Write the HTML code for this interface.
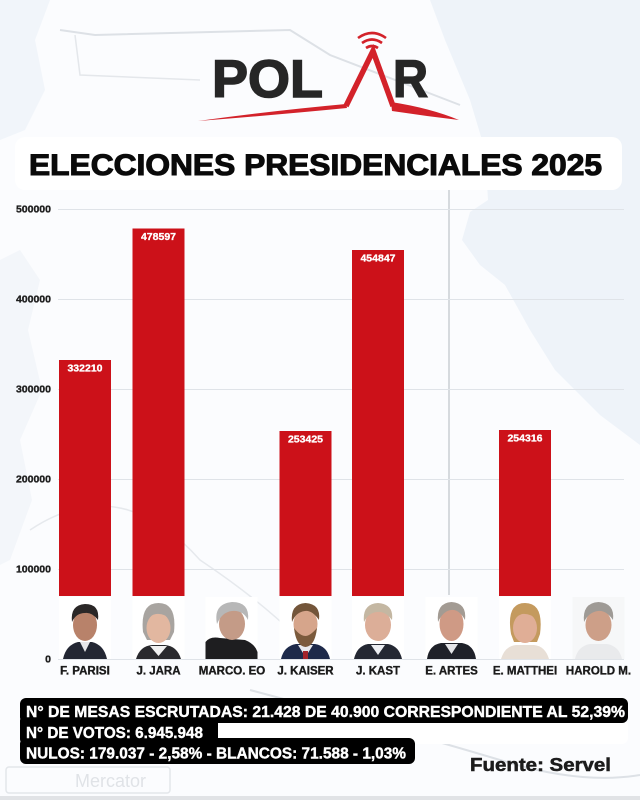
<!DOCTYPE html>
<html>
<head>
<meta charset="utf-8">
<style>
html,body{margin:0;padding:0;background:#fff;}
svg{display:block;}
text{font-family:"Liberation Sans",sans-serif;}
</style>
</head>
<body>
<svg width="640" height="800" viewBox="0 0 640 800" xmlns="http://www.w3.org/2000/svg">
  <!-- background map -->
  <rect x="0" y="0" width="640" height="800" fill="#fbfcfe"/>
  <path d="M430,0 L640,0 L640,445 L600,415 L555,370 L530,330 L505,285 L480,265 L462,240 L470,212 L488,200 L485,150 L470,100 L445,40 Z" fill="#eef3f9"/>
  <path d="M0,0 L50,0 L35,40 L45,90 L25,130 L0,140 Z" fill="#f1f5fa"/>
  <path d="M0,260 L20,250 L40,280 L28,330 L42,390 L20,440 L32,500 L10,560 L0,565 Z" fill="#f3f6fa"/>
  <path d="M60,30 L95,35 L290,30 L330,55 L460,105" fill="none" stroke="#dde1e6" stroke-width="2"/>
  <path d="M75,35 L80,75 L200,80" fill="none" stroke="#e4e7eb" stroke-width="1.5"/>
  <line x1="449" y1="185" x2="449" y2="595" stroke="#d6dade" stroke-width="2"/>
  <path d="M250,690 Q400,730 500,760 Q580,785 640,775" fill="none" stroke="#dde1e6" stroke-width="2"/>
  <path d="M30,530 Q120,470 200,560 Q260,600 300,640" fill="none" stroke="#e6e9ed" stroke-width="1.5"/>
  <!-- bottom strip -->
  <rect x="0" y="796" width="640" height="4" fill="#e1e3e6"/>

  <!-- faint Mercator box -->
  <rect x="6" y="767" width="164" height="26" rx="3" fill="none" stroke="#e3e6ea" stroke-width="1.5"/>
  <text x="75" y="787" font-size="18" fill="#e0e3e7">Mercator</text>

  <!-- Logo -->
  <g>
    <path d="M358,38 Q372,28 386,38" fill="none" stroke="#d3222a" stroke-width="2.6"/>
    <path d="M362,43 Q372,36 382,43" fill="none" stroke="#d3222a" stroke-width="2.6"/>
    <path d="M366,48 Q372,44 378,48" fill="none" stroke="#d3222a" stroke-width="2.6"/>
    <text x="212" y="97" font-size="53" font-weight="bold" fill="#262626" stroke="#262626" stroke-width="1.5" textLength="111" lengthAdjust="spacingAndGlyphs">POL</text>
    <text x="393" y="97" font-size="53" font-weight="bold" fill="#262626" stroke="#262626" stroke-width="1.5" textLength="35" lengthAdjust="spacingAndGlyphs">R</text>
    <path d="M346,106 L373,51 L393,106" fill="none" stroke="#d3222a" stroke-width="5.5" stroke-linejoin="miter"/>
    <path d="M198,121 Q270,111 346,104 L347,108 Q275,115 198,121 Z" fill="#d3222a"/>
    <path d="M391,102 Q430,108 459,120 Q425,116 392,111 Z" fill="#d3222a"/>
  </g>

  <!-- Title box -->
  <rect x="15" y="137" width="607" height="53" rx="10" fill="#ffffff"/>
  <text x="29" y="175" font-size="30" font-weight="bold" fill="#0a0a0a" stroke="#0a0a0a" stroke-width="1.1" textLength="573" lengthAdjust="spacingAndGlyphs">ELECCIONES PRESIDENCIALES 2025</text>

  <!-- gridlines -->
  <g stroke="#dfe3e8" stroke-width="1">
    <line x1="58" y1="209.5" x2="624" y2="209.5"/>
    <line x1="58" y1="299.5" x2="624" y2="299.5"/>
    <line x1="58" y1="389.5" x2="624" y2="389.5"/>
    <line x1="58" y1="479.5" x2="624" y2="479.5"/>
    <line x1="58" y1="569.5" x2="624" y2="569.5"/>
    <line x1="58" y1="659.5" x2="624" y2="659.5"/>
  </g>
  <!-- y labels -->
  <g font-size="10.5" font-weight="bold" fill="#1f1f1f" stroke="#1f1f1f" stroke-width="0.35" text-anchor="end">
    <text x="51" y="212.5">500000</text>
    <text x="51" y="302.5">400000</text>
    <text x="51" y="392.5">300000</text>
    <text x="51" y="482.5">200000</text>
    <text x="51" y="572.5">100000</text>
    <text x="51" y="662.5">0</text>
  </g>

  <!-- bars -->
  <g fill="#cc1119">
    <rect x="59" y="360" width="52" height="236"/>
    <rect x="132.5" y="228.5" width="52" height="367.5"/>
    <rect x="279.5" y="431" width="52" height="165"/>
    <rect x="352" y="250" width="52" height="346"/>
    <rect x="499" y="430" width="52" height="166"/>
  </g>
  <g font-size="10.5" font-weight="bold" fill="#ffffff" stroke="#ffffff" stroke-width="0.3" text-anchor="middle">
    <text x="85" y="371.5">332210</text>
    <text x="158.5" y="240">478597</text>
    <text x="305.5" y="442.5">253425</text>
    <text x="378" y="261.5">454847</text>
    <text x="525" y="441.5">254316</text>
  </g>

  <!-- photos -->
  <g>
    <rect x="59" y="597" width="52" height="62" fill="#fff"/>
    <path d="M63,659 Q66,645 78,642 L92,642 Q104,645 107,659 Z" fill="#232733"/>
    <path d="M80,642 L85,652 L90,642 Z" fill="#e8e8ea"/>
    <ellipse cx="85" cy="625" rx="12" ry="16" fill="#b8826a"/>
    <path d="M72,622 Q70,605 85,604 Q100,604 98,620 Q92,612 85,613 Q76,613 72,622 Z" fill="#2a2727"/>
  </g>
  <g>
    <rect x="132.5" y="597" width="52" height="62" fill="#fff"/>
    <path d="M136,659 Q140,646 152,645 L165,645 Q177,646 181,659 Z" fill="#2a2a2e"/>
    <path d="M150,646 L158.5,656 L167,646 Z" fill="#f1f1f1"/>
    <path d="M143,632 Q140,603 158.5,603 Q177,603 174,632 L170,640 L147,640 Z" fill="#a8a4a0"/>
    <ellipse cx="158.5" cy="628" rx="12" ry="15" fill="#e2b7a0"/>
    <path d="M146,620 Q150,608 160,609 Q170,610 172,620 Q164,613 156,614 Q150,615 146,620 Z" fill="#a8a4a0"/>
  </g>
  <g>
    <rect x="205.5" y="597" width="52" height="62" fill="#fff"/>
    <path d="M205.5,659 L205.5,642 Q210,636 220,638 L245,640 Q255,644 257.5,652 L257.5,659 Z" fill="#1e1e20"/>
    <ellipse cx="232" cy="624" rx="13" ry="16" fill="#c49b87"/>
    <path d="M217,624 Q213,604 232,602 Q250,602 248,620 Q243,610 232,611 Q222,612 217,624 Z" fill="#b7b7b7"/>
  </g>
  <g>
    <rect x="279.5" y="597" width="52" height="62" fill="#fff"/>
    <path d="M281,659 Q284,646 296,644 L315,644 Q327,646 330,659 Z" fill="#1e2a4a"/>
    <path d="M298,645 L305.5,657 L313,645 Z" fill="#e9eaee"/>
    <rect x="303" y="651" width="5" height="8" fill="#a3232b"/>
    <ellipse cx="305.5" cy="624" rx="12" ry="15" fill="#d6a58b"/>
    <path d="M294,628 Q296,646 305.5,647 Q315,646 317,628 Q310,636 305.5,636 Q300,636 294,628 Z" fill="#7b5a3c"/>
    <path d="M292,622 Q290,604 305.5,603 Q321,604 319,620 Q312,610 305,611 Q296,612 292,622 Z" fill="#73553a"/>
  </g>
  <g>
    <rect x="352" y="597" width="52" height="62" fill="#fff"/>
    <path d="M354,659 Q357,646 368,644 L388,644 Q399,646 402,659 Z" fill="#242833"/>
    <path d="M371,645 L378,655 L385,645 Z" fill="#eceef2"/>
    <ellipse cx="378" cy="625" rx="13" ry="16" fill="#dcae98"/>
    <path d="M364,622 Q362,604 378,603 Q394,604 392,620 Q385,611 378,612 Q369,612 364,622 Z" fill="#c4b7a2"/>
  </g>
  <g>
    <rect x="425.5" y="597" width="52" height="62" fill="#fff"/>
    <path d="M427,659 Q429,645 441,643 L462,643 Q474,645 476,659 Z" fill="#1f2129"/>
    <path d="M445,644 L451.5,654 L458,644 Z" fill="#e5e5e8"/>
    <ellipse cx="451.5" cy="624" rx="12" ry="17" fill="#cf9a85"/>
    <path d="M438,622 Q436,603 451.5,602 Q467,603 465,620 Q459,609 451,610 Q443,611 438,622 Z" fill="#a39b93"/>
  </g>
  <g>
    <rect x="499" y="597" width="52" height="62" fill="#fff"/>
    <path d="M501,659 Q505,646 516,645 L534,645 Q545,646 549,659 Z" fill="#e8dfd6"/>
    <path d="M511,634 Q506,603 525,603 Q544,603 540,634 L537,642 L514,642 Z" fill="#c49a5e"/>
    <ellipse cx="525" cy="628" rx="12" ry="15" fill="#e0ae96"/>
    <path d="M513,622 Q515,608 527,609 Q538,610 538,620 Q530,613 522,614 Q516,616 513,622 Z" fill="#c49a5e"/>
  </g>
  <g>
    <rect x="572.5" y="597" width="52" height="62" fill="#f6f7f8"/>
    <path d="M575,659 Q578,646 590,644 L607,644 Q619,646 622,659 Z" fill="#e9eaec"/>
    <ellipse cx="598.5" cy="625" rx="13" ry="16" fill="#cd9f88"/>
    <path d="M584,622 Q582,603 598.5,602 Q615,603 613,620 Q606,610 598,611 Q589,612 584,622 Z" fill="#9e9a95"/>
  </g>

  <!-- category labels -->
  <g font-size="11.5" font-weight="bold" fill="#1a1a1a" stroke="#1a1a1a" stroke-width="0.35" text-anchor="middle">
    <text x="85" y="674.5">F. PARISI</text>
    <text x="158.5" y="674.5">J. JARA</text>
    <text x="232" y="674.5">MARCO. EO</text>
    <text x="305.5" y="674.5">J. KAISER</text>
    <text x="378" y="674.5">J. KAST</text>
    <text x="451.5" y="674.5">E. ARTES</text>
    <text x="525" y="674.5">E. MATTHEI</text>
    <text x="598.5" y="674.5">HAROLD M.</text>
  </g>

  <!-- bottom info box -->
  <rect x="218" y="720" width="410" height="24" rx="6" fill="#ffffff"/>
  <rect x="20" y="698" width="608" height="25" rx="6" fill="#000"/>
  <rect x="20" y="715" width="198" height="30" rx="6" fill="#000"/>
  <rect x="20" y="738" width="395" height="26" rx="6" fill="#000"/>
  <g font-size="15.5" font-weight="bold" fill="#ffffff" stroke="#ffffff" stroke-width="0.4">
    <text x="26" y="717" textLength="599" lengthAdjust="spacingAndGlyphs">N° DE MESAS ESCRUTADAS: 21.428 DE 40.900 CORRESPONDIENTE AL 52,39%</text>
    <text x="26" y="738" textLength="177" lengthAdjust="spacingAndGlyphs">N° DE VOTOS: 6.945.948</text>
    <text x="26" y="758.5" textLength="380" lengthAdjust="spacingAndGlyphs">NULOS: 179.037 - 2,58% - BLANCOS: 71.588 - 1,03%</text>
  </g>

  <text x="470" y="771" font-size="18" font-weight="bold" fill="#1c1c1c" stroke="#1c1c1c" stroke-width="0.5" textLength="141" lengthAdjust="spacingAndGlyphs">Fuente: Servel</text>
</svg>
</body>
</html>
